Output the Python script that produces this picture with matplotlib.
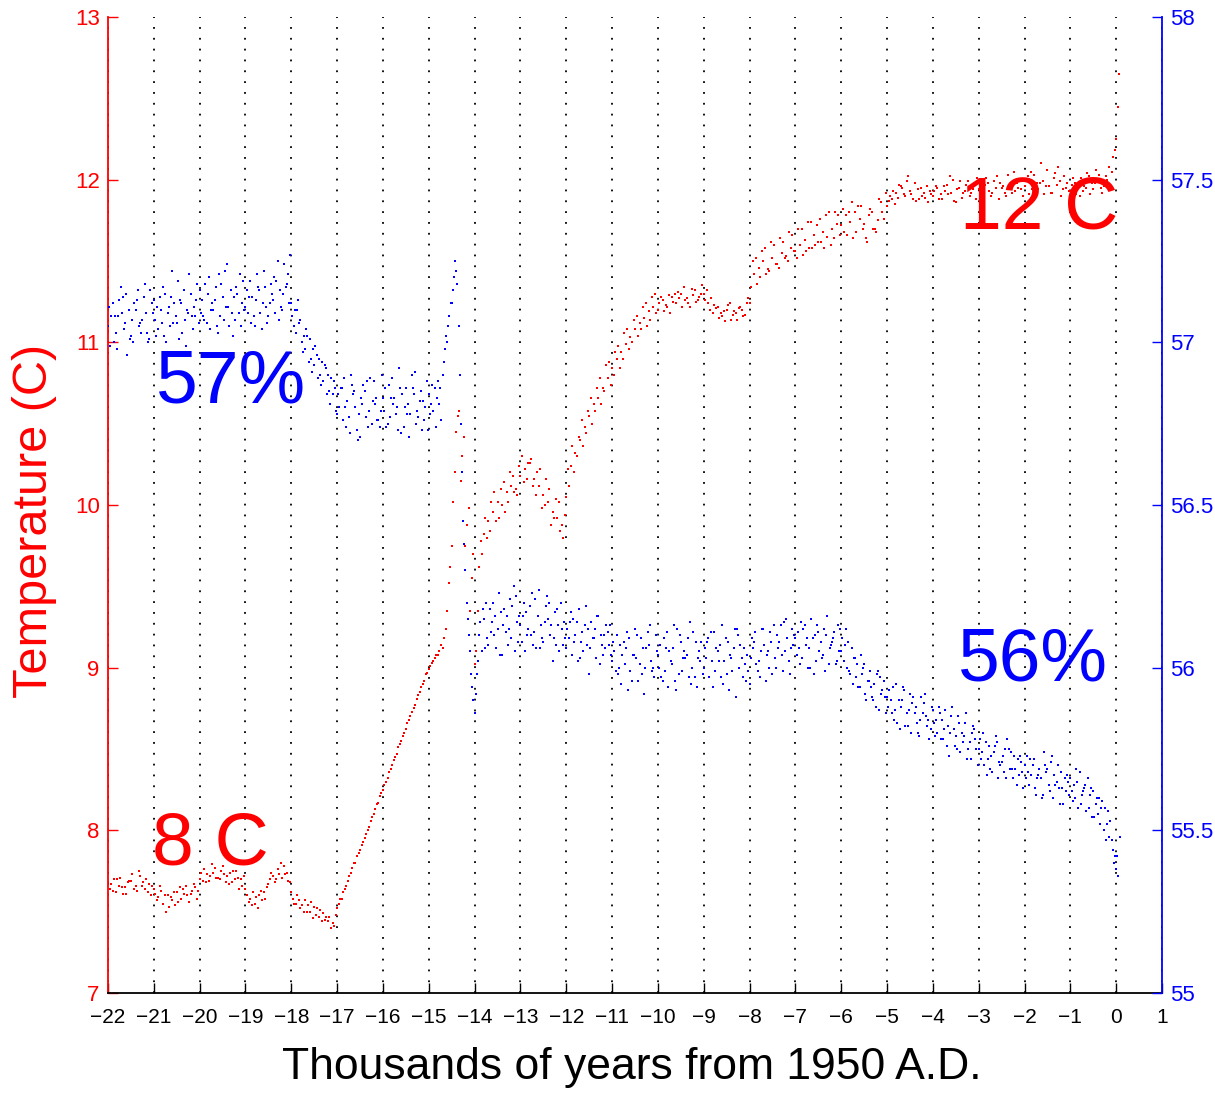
import numpy as np
import matplotlib
matplotlib.use("Agg")
import matplotlib.pyplot as plt
from matplotlib.ticker import FormatStrFormatter

plt.rcParams['font.family'] = ['Liberation Sans', 'DejaVu Sans']

# ---- data (thousands of years from 1950, step 0.1 kyr) ----
# red: temperature (C), three samples per 0.1 kyr step
temp_a = [
    7.68, 7.63, 7.70, 7.65, 7.61, 7.69, 7.66, 7.72, 7.64, 7.67,
    7.64, 7.59, 7.55, 7.60, 7.57, 7.62, 7.58, 7.66, 7.61, 7.65,
    7.70, 7.76, 7.69, 7.74, 7.71, 7.78, 7.72, 7.68, 7.75, 7.70,
    7.64, 7.58, 7.55, 7.60, 7.62, 7.67, 7.72, 7.76, 7.71, 7.74,
    7.62, 7.55, 7.52, 7.57, 7.50, 7.53, 7.47, 7.49, 7.44, 7.43,
    7.52, 7.58, 7.66, 7.74, 7.80, 7.88, 7.95, 8.02, 8.10, 8.17,
    8.25, 8.32, 8.40, 8.47, 8.55, 8.62, 8.70, 8.77, 8.85, 8.92,
    8.99, 9.04, 9.08, 9.12, 9.35, 9.75, 10.45, 10.15, 9.75, 9.35,
    9.02, 9.62, 9.82, 9.90, 9.96, 10.02, 10.00, 10.08, 10.12, 10.10,
    10.18, 10.22, 10.26, 10.16, 10.12, 10.06, 10.02, 9.96, 9.92, 9.88,
    10.05, 10.24, 10.32, 10.40, 10.48, 10.55, 10.62, 10.66, 10.72, 10.78,
    10.84, 10.90, 10.94, 10.99, 11.03, 11.08, 11.12, 11.15, 11.19, 11.22,
    11.20, 11.26, 11.22, 11.28, 11.24, 11.30, 11.26, 11.22, 11.32, 11.28,
    11.30, 11.24, 11.18, 11.22, 11.16, 11.20, 11.14, 11.18, 11.22, 11.17,
    11.24, 11.42, 11.46, 11.50, 11.45, 11.52, 11.48, 11.55, 11.53, 11.58,
    11.56, 11.60, 11.63, 11.58, 11.66, 11.62, 11.68, 11.65, 11.70, 11.73,
    11.72, 11.78, 11.74, 11.80, 11.76, 11.73, 11.78, 11.70, 11.75, 11.80,
    11.84, 11.88, 11.92, 11.96, 11.90, 11.93, 11.98, 11.88, 11.92, 11.86,
    11.90, 11.95, 11.88, 11.97, 11.92, 11.86, 11.99, 11.93, 11.90, 11.96,
    11.94, 11.89, 11.98, 11.92, 12.02, 11.95, 11.90, 11.97, 11.93, 12.00,
    11.96, 11.91, 12.03, 11.94, 11.99, 12.06, 11.92, 11.97, 11.90, 11.95,
    11.93, 11.98, 11.90, 11.96, 12.02, 11.94, 11.99, 11.92, 12.00, 12.05,
    12.25,
]
temp_b = [
    7.64, 7.70, 7.66, 7.61, 7.68, 7.73, 7.63, 7.66, 7.70, 7.60,
    7.61, 7.66, 7.60, 7.53, 7.62, 7.56, 7.64, 7.60, 7.63, 7.58,
    7.74, 7.68, 7.72, 7.77, 7.70, 7.73, 7.67, 7.75, 7.71, 7.66,
    7.60, 7.54, 7.59, 7.63, 7.58, 7.70, 7.68, 7.73, 7.78, 7.69,
    7.58, 7.60, 7.54, 7.50, 7.56, 7.48, 7.51, 7.45, 7.47, 7.41,
    7.55, 7.62, 7.69, 7.77, 7.84, 7.91, 7.98, 8.06, 8.13, 8.21,
    8.28, 8.36, 8.43, 8.51, 8.58, 8.66, 8.73, 8.81, 8.88, 8.96,
    9.01, 9.06, 9.10, 9.18, 9.52, 10.02, 10.55, 10.30, 9.88, 9.55,
    9.10, 9.78, 9.92, 9.84, 10.08, 9.92, 10.14, 10.02, 10.18, 10.06,
    10.30, 10.16, 10.28, 10.06, 10.22, 10.00, 10.10, 9.92, 10.02, 9.80,
    10.22, 10.36, 10.30, 10.52, 10.44, 10.66, 10.58, 10.78, 10.70, 10.88,
    10.80, 10.98, 10.90, 11.08, 11.00, 11.16, 11.08, 11.24, 11.14, 11.30,
    11.24, 11.19, 11.29, 11.25, 11.31, 11.22, 11.27, 11.33, 11.25, 11.30,
    11.26, 11.20, 11.23, 11.15, 11.19, 11.23, 11.17, 11.14, 11.20, 11.24,
    11.34, 11.52, 11.40, 11.58, 11.44, 11.60, 11.46, 11.62, 11.50, 11.66,
    11.52, 11.70, 11.56, 11.74, 11.60, 11.76, 11.58, 11.80, 11.64, 11.78,
    11.82, 11.66, 11.86, 11.68, 11.84, 11.64, 11.82, 11.70, 11.88, 11.76,
    11.87, 11.93, 11.89, 11.95, 11.99, 11.91, 11.87, 11.95, 11.89, 11.93,
    11.93, 11.88, 11.96, 11.91, 12.00, 11.94, 11.89, 11.97, 11.92, 11.88,
    11.91, 11.97, 11.93, 11.99, 11.88, 11.96, 12.03, 11.92, 11.98, 11.94,
    11.99, 12.05, 11.93, 11.98, 11.91, 11.96, 12.01, 12.08, 11.94, 11.98,
    11.97, 11.91, 12.01, 11.95, 11.91, 11.98, 12.03, 11.96, 12.08, 12.14,
    12.45,
]
temp_c = [
    7.67, 7.62, 7.71, 7.65, 7.69, 7.64, 7.75, 7.68, 7.62, 7.66,
    7.57, 7.63, 7.50, 7.59, 7.54, 7.65, 7.61, 7.56, 7.67, 7.63,
    7.69, 7.73, 7.79, 7.71, 7.75, 7.68, 7.74, 7.70, 7.64, 7.72,
    7.56, 7.62, 7.52, 7.57, 7.65, 7.74, 7.70, 7.80, 7.73, 7.68,
    7.55, 7.57, 7.50, 7.54, 7.46, 7.52, 7.44, 7.47, 7.40, 7.48,
    7.58, 7.64, 7.72, 7.80, 7.86, 7.93, 8.00, 8.08, 8.16, 8.23,
    8.30, 8.38, 8.45, 8.53, 8.60, 8.68, 8.75, 8.83, 8.90, 8.97,
    9.03, 9.08, 9.14, 9.24, 9.62, 10.20, 10.58, 10.42, 9.98, 9.70,
    9.35, 9.70, 9.80, 10.02, 9.90, 10.10, 9.96, 10.20, 10.08, 10.24,
    10.14, 10.26, 10.12, 10.20, 9.98, 10.16, 9.88, 10.04, 9.84, 9.94,
    10.12, 10.20, 10.42, 10.36, 10.58, 10.50, 10.72, 10.62, 10.86, 10.74,
    10.94, 10.84, 11.06, 10.96, 11.14, 11.04, 11.22, 11.10, 11.28, 11.18,
    11.28, 11.23, 11.18, 11.30, 11.27, 11.34, 11.24, 11.29, 11.26, 11.35,
    11.32, 11.27, 11.21, 11.18, 11.13, 11.24, 11.19, 11.21, 11.16, 11.27,
    11.50, 11.36, 11.56, 11.42, 11.62, 11.48, 11.64, 11.52, 11.68, 11.56,
    11.70, 11.54, 11.74, 11.58, 11.72, 11.62, 11.78, 11.60, 11.80, 11.66,
    11.68, 11.80, 11.64, 11.84, 11.70, 11.62, 11.80, 11.68, 11.86, 11.92,
    11.90, 11.85, 11.97, 11.91, 12.02, 11.88, 11.94, 11.90, 11.96, 11.91,
    11.96, 11.91, 11.93, 12.02, 11.87, 11.95, 11.92, 11.99, 11.94, 12.01,
    11.96, 12.01, 11.90, 11.95, 11.98, 11.92, 11.97, 12.05, 11.95, 11.90,
    12.02, 11.94, 11.98, 12.10, 11.96, 11.92, 12.04, 11.99, 12.02, 11.93,
    12.01, 11.96, 11.93, 12.04, 11.98, 12.06, 11.95, 12.02, 11.97, 12.18,
    12.65,
]

# blue: right axis (%), four samples per 0.1 kyr step
rh_a = [
    57.05, 57.12, 56.98, 57.09, 57.15, 57.02, 57.10, 57.06, 57.18, 57.01,
    57.13, 57.04, 57.17, 57.09, 57.22, 57.06, 57.12, 56.99, 57.15, 57.08,
    57.16, 57.07, 57.20, 57.10, 57.03, 57.14, 57.24, 57.09, 57.17, 57.05,
    57.11, 57.19, 57.05, 57.16, 57.22, 57.08, 57.13, 57.25, 57.10, 57.18,
    57.12, 57.03, 57.07, 56.98, 57.01, 56.93, 56.95, 56.88, 56.90, 56.84,
    56.78, 56.86, 56.74, 56.90, 56.80, 56.71, 56.85, 56.79, 56.88, 56.76,
    56.83, 56.75, 56.89, 56.80, 56.72, 56.86, 56.78, 56.91, 56.82, 56.76,
    56.84, 56.79, 56.88, 56.90, 57.00, 57.12, 57.22, 56.75, 56.30, 56.05,
    55.86, 56.10, 56.15, 56.07, 56.20, 56.12, 56.04, 56.16, 56.09, 56.22,
    56.13, 56.05, 56.19, 56.11, 56.24, 56.08, 56.15, 56.02, 56.18, 56.12,
    56.06, 56.17, 56.10, 56.03, 56.13, 55.98, 56.09, 56.16, 56.04, 56.11,
    56.02, 56.10, 55.95, 56.06, 55.99, 56.12, 56.01, 55.92, 56.07, 56.00,
    56.04, 55.96, 56.11, 56.01, 55.93, 56.08, 56.03, 56.14, 55.97, 56.05,
    56.00, 56.09, 55.94, 56.05, 56.13, 55.98, 56.03, 55.91, 56.07, 56.01,
    55.95, 56.08, 56.02, 56.12, 56.05, 55.98, 56.10, 56.04, 56.15, 56.06,
    56.09, 56.01, 56.13, 56.06, 55.98, 56.11, 56.04, 56.16, 56.08, 56.02,
    56.05, 56.12, 55.98, 56.03, 55.94, 56.01, 55.96, 55.90, 55.99, 55.93,
    55.91, 55.86, 55.95, 55.88, 55.82, 55.92, 55.86, 55.79, 55.89, 55.84,
    55.87, 55.80, 55.84, 55.76, 55.85, 55.79, 55.74, 55.83, 55.77, 55.81,
    55.75, 55.80, 55.72, 55.68, 55.77, 55.71, 55.66, 55.74, 55.69, 55.73,
    55.70, 55.64, 55.72, 55.67, 55.61, 55.69, 55.73, 55.65, 55.68, 55.62,
    55.66, 55.60, 55.68, 55.63, 55.57, 55.62, 55.55, 55.59, 55.52, 55.47,
    55.38,
]
rh_b = [
    57.11, 57.00, 57.08, 57.14, 56.96, 57.07, 57.13, 57.03, 57.09, 57.16,
    57.07, 57.14, 57.02, 57.11, 57.06, 57.19, 57.03, 57.10, 57.08, 57.13,
    57.09, 57.18, 57.04, 57.13, 57.21, 57.07, 57.11, 57.02, 57.15, 57.12,
    57.16, 57.06, 57.13, 57.09, 57.17, 57.12, 57.20, 57.07, 57.15, 57.21,
    57.08, 57.10, 57.00, 57.04, 56.95, 56.99, 56.90, 56.93, 56.85, 56.88,
    56.84, 56.76, 56.82, 56.87, 56.73, 56.83, 56.77, 56.89, 56.81, 56.74,
    56.79, 56.87, 56.81, 56.73, 56.84, 56.78, 56.90, 56.75, 56.85, 56.80,
    56.78, 56.86, 56.81, 56.94, 57.05, 57.16, 57.18, 56.60, 56.20, 55.98,
    55.92, 56.14, 56.06, 56.18, 56.10, 56.23, 56.13, 56.07, 56.19, 56.14,
    56.08, 56.17, 56.10, 56.21, 56.06, 56.14, 56.20, 56.09, 56.13, 56.07,
    56.12, 56.04, 56.14, 56.08, 56.19, 56.06, 56.12, 56.01, 56.10, 56.07,
    56.08, 55.98, 56.04, 56.11, 55.96, 56.03, 56.09, 56.00, 56.13, 55.97,
    56.00, 56.09, 55.94, 56.06, 56.12, 55.99, 56.04, 55.95, 56.08, 56.02,
    56.06, 55.97, 56.11, 56.02, 55.95, 56.08, 55.99, 56.12, 56.03, 55.96,
    56.03, 56.11, 55.97, 56.07, 56.00, 56.13, 56.06, 55.99, 56.09, 56.12,
    56.04, 56.14, 56.07, 56.00, 56.10, 56.05, 56.12, 56.01, 56.09, 56.13,
    56.09, 56.00, 56.06, 55.97, 56.04, 55.92, 55.99, 55.95, 55.87, 55.96,
    55.88, 55.94, 55.83, 55.90, 55.86, 55.80, 55.88, 55.84, 55.92, 55.78,
    55.83, 55.88, 55.78, 55.82, 55.88, 55.75, 55.80, 55.86, 55.72, 55.78,
    55.78, 55.70, 55.76, 55.74, 55.66, 55.73, 55.78, 55.69, 55.64, 55.71,
    55.66, 55.72, 55.63, 55.69, 55.74, 55.64, 55.60, 55.70, 55.63, 55.67,
    55.62, 55.69, 55.58, 55.64, 55.61, 55.54, 55.60, 55.50, 55.56, 55.44,
    55.42,
]
rh_c = [
    56.99, 57.08, 57.13, 57.04, 57.10, 57.00, 57.16, 57.07, 57.03, 57.12,
    57.02, 57.10, 57.15, 57.05, 57.12, 57.01, 57.16, 57.09, 57.04, 57.18,
    57.13, 57.06, 57.10, 57.17, 57.08, 57.22, 57.05, 57.14, 57.09, 57.19,
    57.09, 57.14, 57.21, 57.04, 57.11, 57.18, 57.09, 57.16, 57.24, 57.12,
    57.05, 57.13, 56.97, 57.02, 56.91, 56.96, 56.87, 56.92, 56.81, 56.86,
    56.80, 56.89, 56.77, 56.84, 56.70, 56.81, 56.88, 56.75, 56.83, 56.79,
    56.86, 56.77, 56.83, 56.92, 56.74, 56.81, 56.86, 56.79, 56.73, 56.88,
    56.81, 56.74, 56.86, 56.98, 57.08, 57.20, 57.05, 56.45, 56.15, 55.94,
    55.98, 56.05, 56.20, 56.11, 56.16, 56.04, 56.18, 56.12, 56.25, 56.08,
    56.16, 56.10, 56.23, 56.06, 56.13, 56.19, 56.10, 56.17, 56.05, 56.14,
    56.09, 56.15, 56.02, 56.11, 56.07, 56.14, 56.03, 56.10, 56.06, 56.13,
    56.05, 56.00, 56.08, 55.93, 56.04, 56.10, 55.98, 56.06, 56.02, 56.10,
    56.07, 55.99, 56.05, 56.13, 55.98, 56.03, 56.09, 56.00, 55.94, 56.08,
    56.03, 56.11, 55.99, 56.07, 56.02, 55.93, 56.06, 56.10, 55.97, 56.04,
    56.09, 56.01, 56.05, 55.96, 56.11, 56.03, 56.08, 56.14, 56.02, 56.07,
    56.11, 56.03, 56.09, 56.15, 56.02, 56.08, 55.99, 56.06, 56.11, 56.05,
    56.02, 56.08, 55.95, 56.01, 55.98, 55.90, 55.94, 55.88, 55.97, 55.91,
    55.93, 55.84, 55.90, 55.94, 55.82, 55.89, 55.83, 55.91, 55.85, 55.81,
    55.79, 55.86, 55.81, 55.73, 55.81, 55.85, 55.77, 55.72, 55.80, 55.75,
    55.72, 55.77, 55.69, 55.76, 55.71, 55.68, 55.75, 55.66, 55.72, 55.68,
    55.73, 55.67, 55.61, 55.66, 55.70, 55.62, 55.67, 55.63, 55.58, 55.65,
    55.59, 55.65, 55.61, 55.56, 55.63, 55.58, 55.52, 55.57, 55.48, 55.40,
    55.36,
]
rh_d = [
    57.08, 57.03, 57.17, 57.06, 57.01, 57.12, 57.05, 57.14, 57.00, 57.09,
    57.11, 57.06, 57.00, 57.14, 57.08, 57.13, 57.07, 57.21, 57.11, 57.06,
    57.08, 57.15, 57.12, 57.05, 57.18, 57.11, 57.16, 57.07, 57.21, 57.10,
    57.14, 57.08, 57.17, 57.12, 57.06, 57.15, 57.19, 57.11, 57.17, 57.27,
    57.10, 57.06, 57.02, 56.94, 56.98, 56.89, 56.94, 56.84, 56.89, 56.79,
    56.86, 56.80, 56.72, 56.85, 56.78, 56.87, 56.74, 56.82, 56.76, 56.90,
    56.74, 56.83, 56.78, 56.86, 56.80, 56.71, 56.84, 56.77, 56.82, 56.73,
    56.87, 56.83, 56.76, 57.02, 57.12, 57.25, 56.90, 56.38, 56.10, 55.90,
    56.02, 56.18, 56.09, 56.14, 56.06, 56.17, 56.11, 56.21, 56.05, 56.16,
    56.20, 56.12, 56.07, 56.16, 56.09, 56.22, 56.13, 56.07, 56.20, 56.09,
    56.14, 56.08, 56.18, 56.05, 56.12, 56.09, 56.16, 56.07, 56.13, 56.04,
    55.99, 56.07, 56.01, 56.09, 56.04, 55.96, 56.06, 56.11, 55.99, 56.05,
    55.97, 56.06, 56.02, 55.96, 56.10, 56.05, 55.97, 56.11, 56.03, 55.98,
    56.08, 56.02, 56.06, 55.97, 56.09, 56.04, 56.12, 56.00, 56.06, 55.99,
    56.06, 55.99, 56.12, 56.04, 56.08, 56.00, 56.13, 56.05, 55.98, 56.10,
    56.06, 56.12, 56.00, 56.09, 56.13, 56.03, 56.10, 56.07, 56.01, 56.12,
    56.07, 55.99, 56.03, 55.94, 56.00, 55.96, 55.91, 55.98, 55.92, 55.86,
    55.90, 55.87, 55.81, 55.93, 55.87, 55.91, 55.80, 55.86, 55.82, 55.88,
    55.84, 55.78, 55.87, 55.80, 55.76, 55.83, 55.79, 55.75, 55.82, 55.70,
    55.74, 55.67, 55.73, 55.79, 55.70, 55.75, 55.69, 55.73, 55.67, 55.63,
    55.68, 55.70, 55.66, 55.60, 55.68, 55.71, 55.64, 55.58, 55.66, 55.61,
    55.64, 55.57, 55.62, 55.66, 55.54, 55.60, 55.57, 55.47, 55.53, 55.42,
    55.48,
]

start_kyr = -22.0
step_kyr = 0.1
temp_offsets = [0.0, 0.033, 0.067]
rh_offsets = [0.0, 0.025, 0.05, 0.075]

x_ticks = list(range(-22, 2))
temp_ticks = list(range(7, 14))
rh_ticks = [55, 55.5, 56, 56.5, 57, 57.5, 58]

labels = [("57%", -20.95, 10.63, 'blue'),
          ("8 C", -21.05, 7.79, 'red'),
          ("12 C", -3.4, 11.70, 'red'),
          ("56%", -3.45, 8.92, 'blue')]


def sample_times(values, offset):
    return start_kyr + offset + step_kyr * np.arange(len(values))


fig = plt.figure(figsize=(12.15, 10.93), dpi=100)
ax = fig.add_axes([0.0889, 0.0915, 0.8675, 0.8929])
ax2 = ax.twinx()

for vals, off in zip([temp_a, temp_b, temp_c], temp_offsets):
    ax.plot(sample_times(vals, off), vals, 's', ms=2.1, mew=0, color='#ff0000')
for vals, off in zip([rh_a, rh_b, rh_c, rh_d], rh_offsets):
    ax2.plot(sample_times(vals, off), vals, 's', ms=2.1, mew=0, color='#0000ff')

ax.set_xlim(-22, 1)
ax.set_ylim(7, 13)
ax2.set_ylim(55, 58)
ax.set_xticks(x_ticks)
ax.set_yticks(temp_ticks)
ax2.set_yticks(rh_ticks)
ax2.yaxis.set_major_formatter(FormatStrFormatter('%g'))

ax.grid(axis='x', color='black', linestyle=(0, (1, 5)), linewidth=1.3)
ax.set_axisbelow(True)

for s in ['top', 'right']:
    ax.spines[s].set_visible(False)
for s in ['top', 'left', 'bottom']:
    ax2.spines[s].set_visible(False)
ax.spines['left'].set_color('red')
ax.spines['left'].set_linewidth(1.3)
ax.spines['bottom'].set_linewidth(1.3)
ax2.spines['right'].set_color('blue')
ax2.spines['right'].set_linewidth(1.3)

ax.tick_params(axis='x', direction='in', length=7, width=1, colors='black',
               labelsize=15, pad=11)
ax.tick_params(axis='y', direction='in', length=7, width=1, colors='red',
               labelsize=16, pad=6)
ax2.tick_params(axis='y', direction='in', length=7, width=1, colors='blue',
                labelsize=16, pad=6)

for txt, x, y, c in labels:
    ax2.text(x, y, txt, transform=ax.transData, color=c, fontsize=54,
             ha='left', va='baseline', zorder=10)

fig.text(35 / 1215, 1 - 521 / 1093, 'Temperature (C)', rotation=90,
         color='red', fontsize=35, ha='center', va='center')
fig.text(632 / 1215, 1 - 1068 / 1093, 'Thousands of years from 1950 A.D.',
         color='black', fontsize=32, ha='center', va='center')

fig.savefig('out.png', dpi=100)
